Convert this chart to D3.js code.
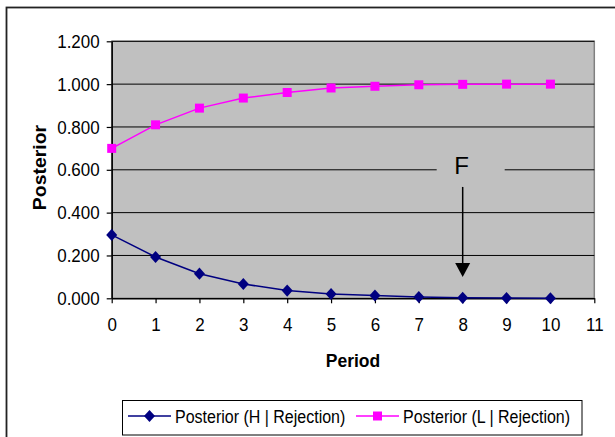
<html>
<head>
<meta charset="utf-8">
<script src="https://cdnjs.cloudflare.com/ajax/libs/d3/7.8.5/d3.min.js"></script>
<style>
  body { margin: 0; background: #fff; }
  text { font-family: Arial, "Liberation Sans", sans-serif; fill: #000; }
</style>
</head>
<body>
<div id="chart"></div>
<script>
// data
var periods = [0, 1, 2, 3, 4, 5, 6, 7, 8, 9, 10];
var postH = [0.296, 0.193, 0.115, 0.067, 0.036, 0.020, 0.013, 0.006, 0.002, 0.001, 0.000];
var postL = [0.700, 0.810, 0.888, 0.935, 0.961, 0.982, 0.990, 0.997, 0.999, 1.000, 1.000];
var xTicks = [0, 1, 2, 3, 4, 5, 6, 7, 8, 9, 10, 11];
var yTicks = [0, 0.2, 0.4, 0.6, 0.8, 1.0, 1.2];
var seriesNames = ["Posterior (H | Rejection)", "Posterior (L | Rejection)"];
var annotation = { label: "F", period: 8, from: 0.52, to: 0.1 };

var W = 615, H = 437;
var pLeft = 111.7, pRight = 594.3, pTop = 41.3, pBottom = 298.3;
var stretch = 1.12; // the original picture is a bit taller than wide

var svg = d3.select("#chart").append("svg").attr("width", W).attr("height", H);

// outer frame (runs off the right and bottom)
svg.append("rect").attr("x", 6.5).attr("y", 7.5).attr("width", 640).attr("height", 460)
  .attr("fill", "none").attr("stroke", "#222").attr("stroke-width", 1.8);

var x = d3.scaleLinear().domain([0, 11]).range([pLeft, pRight]);
var y = d3.scaleLinear().domain([0, 1.2]).range([pBottom, pTop]);

// plot area
svg.append("rect").attr("x", pLeft).attr("y", pTop).attr("width", pRight - pLeft).attr("height", pBottom - pTop)
  .attr("fill", "#c0c0c0").attr("stroke", "#808080").attr("stroke-width", 1.5);

// grid
svg.append("g").selectAll("line").data(yTicks.filter(function(d){ return d > 0; })).enter().append("line")
  .attr("x1", pLeft).attr("x2", pRight)
  .attr("y1", function(d){ return y(d); }).attr("y2", function(d){ return y(d); })
  .attr("stroke", "#000").attr("stroke-width", 1);

// axes
var yAxis = d3.axisLeft(y).tickValues(yTicks).tickFormat(d3.format(".3f")).tickSizeInner(5).tickSizeOuter(0).tickPadding(7);
var gy = svg.append("g").attr("transform", "translate(" + pLeft + ",0)").call(yAxis);

var xAxis = d3.axisBottom(x).tickValues(xTicks).tickSizeInner(5).tickSizeOuter(0).tickPadding(12);
var gx = svg.append("g").attr("transform", "translate(0," + pBottom + ")").call(xAxis);

[gx, gy].forEach(function(g){
  g.select(".domain").attr("stroke", "#000").attr("stroke-width", 1.5);
  g.selectAll(".tick line").attr("stroke", "#000").attr("stroke-width", 1.2);
  g.selectAll("text").attr("fill", "#000").attr("transform", "scale(1," + stretch + ")")
    .style("font-family", "Arial, 'Liberation Sans', sans-serif").style("font-size", "17px");
});

// axis titles
svg.append("text").attr("x", (pLeft + pRight) / 2).attr("y", 366.7).attr("text-anchor", "middle")
  .style("font-size", "17.5px").style("font-weight", "bold").text("Period");
svg.append("text").attr("transform", "translate(46,167.5) rotate(-90) scale(1.08,1)")
  .attr("text-anchor", "middle").style("font-size", "18px").style("font-weight", "bold").text("Posterior");

// annotation: label box hides the gridline, arrow down to period 8
var ax = x(annotation.period);
svg.append("rect").attr("x", ax - 26).attr("y", y(0.6) - 16).attr("width", 68).attr("height", 30)
  .attr("fill", "#c0c0c0");
svg.append("text").attr("x", ax - 1).attr("y", y(0.6) + 4).attr("text-anchor", "middle")
  .style("font-size", "24px").text(annotation.label);
svg.append("line").attr("x1", ax).attr("x2", ax).attr("y1", y(annotation.from)).attr("y2", y(annotation.to) - 10)
  .attr("stroke", "#000").attr("stroke-width", 1.5);
svg.append("path")
  .attr("d", "M" + (ax - 7.5) + "," + (y(annotation.to) - 14) + "L" + (ax + 7.5) + "," + (y(annotation.to) - 14) + "L" + ax + "," + y(annotation.to) + "Z")
  .attr("fill", "#000");

// series
var colors = ["#000080", "#ff00ff"];
var values = [postH, postL];
var diamond = {
  draw: function(ctx, size) {
    var r = Math.sqrt(size) / 2;
    ctx.moveTo(0, -r * 1.1); ctx.lineTo(r, 0); ctx.lineTo(0, r * 1.1); ctx.lineTo(-r, 0); ctx.closePath();
  }
};
var symbols = [diamond, d3.symbolSquare];
var symSizes = [121, 81];

var line = d3.line().x(function(d){ return x(d[0]); }).y(function(d){ return y(d[1]); });

values.forEach(function(v, i){
  var pts = periods.map(function(p, j){ return [p, v[j]]; });
  svg.append("path").datum(pts).attr("d", line).attr("fill", "none")
    .attr("stroke", colors[i]).attr("stroke-width", 1.5);
  svg.append("g").selectAll("path").data(pts).enter().append("path")
    .attr("transform", function(d){ return "translate(" + x(d[0]) + "," + y(d[1]) + ")"; })
    .attr("d", d3.symbol().type(symbols[i]).size(symSizes[i]))
    .attr("fill", colors[i]);
});

// legend
var lg = svg.append("g");
lg.append("rect").attr("x", 122.5).attr("y", 400.5).attr("width", 459.5).attr("height", 34.5)
  .attr("fill", "#fff").attr("stroke", "#000").attr("stroke-width", 1);
var legendX = [128, 356];
seriesNames.forEach(function(name, i){
  var lx = legendX[i];
  lg.append("line").attr("x1", lx).attr("x2", lx + 43).attr("y1", 416).attr("y2", 416)
    .attr("stroke", colors[i]).attr("stroke-width", 1.5);
  lg.append("path").attr("transform", "translate(" + (lx + 21.5) + ",416)")
    .attr("d", d3.symbol().type(symbols[i]).size(symSizes[i])).attr("fill", colors[i]);
  lg.append("text").attr("transform", "translate(" + (lx + 47) + ",422.7) scale(1,1.16)")
    .style("font-size", "16px").text(name);
});
</script>
</body>
</html>
